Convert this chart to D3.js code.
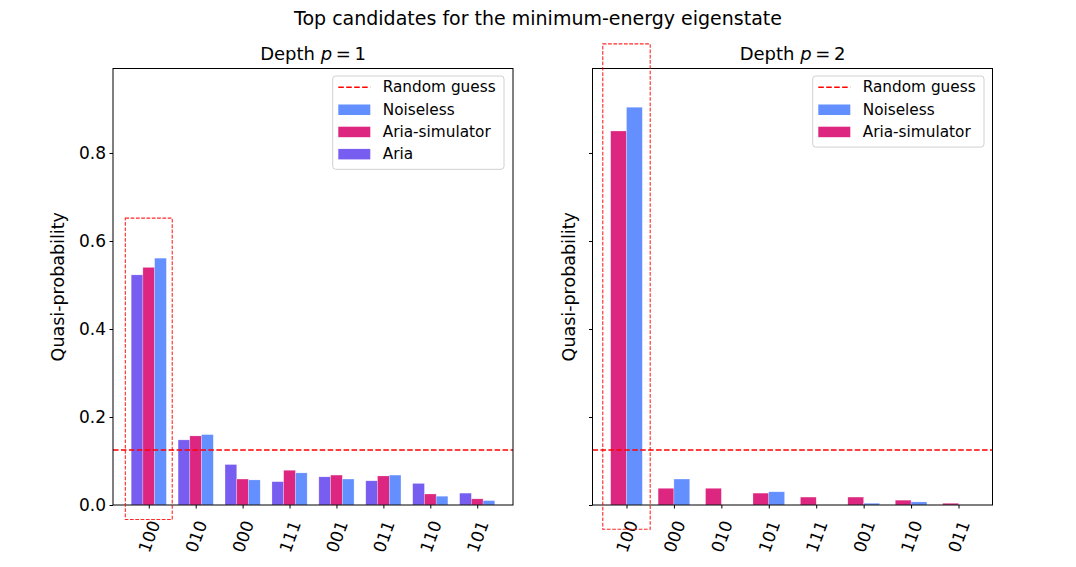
<!DOCTYPE html>
<html><head><meta charset="utf-8">
<script src="https://cdn.jsdelivr.net/npm/d3@7"></script>
<style>body{margin:0;background:#fff} svg text{font-family:"DejaVu Sans",sans-serif;fill:#000}</style>
</head><body><svg id="c" width="1076" height="567"></svg>
<script>
// ---------- data ----------
const suptitle = "Top candidates for the minimum-energy eigenstate";
const yLabel = "Quasi-probability";
const yTicks = [0, 0.2, 0.4, 0.6, 0.8];
const randomGuess = 0.125;
const p1Categories = ["100","010","000","111","001","011","110","101"];
const p1Aria      = [0.523,0.148,0.092,0.053,0.064,0.055,0.049,0.027];
const p1AriaSim   = [0.540,0.157,0.059,0.079,0.068,0.066,0.025,0.014];
const p1Noiseless = [0.561,0.160,0.057,0.073,0.059,0.068,0.020,0.010];
const p2Categories = ["100","000","010","101","111","001","110","011"];
const p2AriaSim   = [0.850,0.038,0.038,0.027,0.018,0.018,0.011,0.004];
const p2Noiseless = [0.904,0.059,0.000,0.030,0.000,0.004,0.007,0.000];
const p1Box = [-0.5, 0.5, -0.033, 0.652];
const p2Box = [-0.5, 0.5, -0.055, 1.048];
const colors = {"Noiseless":"#648FFF","Aria-simulator":"#DC267F","Aria":"#785EF0"};

(function () {
// ---------- layout ----------
const svg = d3.select("#c");
const W = 1076;
const axTop = 68.5, axBottom = 505, axW = 400;
const y = d3.scaleLinear().domain([0, 0.992]).range([axBottom, axTop]);

svg.append("text").attr("x", W/2).attr("y", 25).attr("text-anchor","middle")
  .style("font-size","19px").text(suptitle);

const panels = [
  {x0:113, p:1, cats:p1Categories, box:p1Box, width:0.25, yLabels:true, labOff:49,
   series:[["Aria",p1Aria],["Aria-simulator",p1AriaSim],["Noiseless",p1Noiseless]],
   legend:["Noiseless","Aria-simulator","Aria"], legX:332.7},
  {x0:592.5, p:2, cats:p2Categories, box:p2Box, width:1/3, yLabels:false, labOff:17.5,
   series:[["Aria-simulator",p2AriaSim],["Noiseless",p2Noiseless]],
   legend:["Noiseless","Aria-simulator"], legX:812.7}
];

panels.forEach(P => {
  const n = P.series.length, w = P.width;
  const ext = n*w/2;
  const lo = -ext, hi = P.cats.length-1+ext, m = 0.05*(hi-lo);
  const x = d3.scaleLinear().domain([lo-m, hi+m]).range([P.x0, P.x0+axW]);
  const g = svg.append("g");

  P.series.forEach(([name, vals], si) => {
    const off = (si - (n-1)/2) * w;
    g.selectAll(null).data(vals).enter().append("rect")
      .attr("x", (d,i) => x(i+off-w/2))
      .attr("width", (d,i) => x(i+off+w/2) - x(i+off-w/2))
      .attr("y", d => y(d))
      .attr("height", d => y(0) - y(d))
      .attr("fill", colors[name])
      .attr("stroke","rgba(255,255,255,0.5)").attr("stroke-width",0.5);
  });

  g.append("line").attr("x1", P.x0).attr("x2", P.x0+axW)
    .attr("y1", y(randomGuess)).attr("y2", y(randomGuess))
    .attr("stroke","red").attr("stroke-width",1.5).attr("stroke-dasharray","5.55,2.4");

  g.append("rect").attr("x",P.x0).attr("y",axTop).attr("width",axW).attr("height",axBottom-axTop)
    .attr("fill","none").attr("stroke","#000").attr("stroke-width",1);

  const ya = d3.axisLeft(y).tickValues(yTicks).tickSize(3.5).tickPadding(3.5)
    .tickFormat(P.yLabels ? d3.format(".1f") : () => "");
  const yg = g.append("g").attr("transform",`translate(${P.x0},0)`).call(ya);
  yg.select(".domain").remove();
  yg.attr("font-family",null).attr("font-size",null);
  yg.selectAll("text").style("font-size","17px");

  const xa = d3.axisBottom(x).tickValues(d3.range(P.cats.length)).tickSize(3.5)
    .tickFormat(i => P.cats[i]);
  const xg = g.append("g").attr("transform",`translate(0,${axBottom})`).call(xa);
  xg.select(".domain").remove();
  xg.attr("font-family",null).attr("font-size",null);
  xg.selectAll("text").attr("y",null).attr("dy",null)
    .attr("text-anchor","middle").attr("dominant-baseline","central")
    .attr("transform","translate(0,31.5) rotate(-70)")
    .style("font-size","17px");
  svg.selectAll(".tick line").attr("stroke","#000");

  g.append("text").attr("transform",`translate(${P.x0-P.labOff},${(axTop+axBottom)/2}) rotate(-90)`)
    .attr("text-anchor","middle").style("font-size","17.5px").text(yLabel);

  const t = g.append("text").attr("x", P.x0+axW/2).attr("y", 60).attr("text-anchor","middle")
    .style("font-size","18px");
  t.append("tspan").text("Depth ");
  t.append("tspan").style("font-style","italic").text("p");
  t.append("tspan").text("\u2009=\u2009" + P.p);

  g.append("rect").attr("x", x(P.box[0])).attr("width", x(P.box[1])-x(P.box[0]))
    .attr("y", y(P.box[3])).attr("height", y(P.box[2])-y(P.box[3]))
    .attr("fill","none").attr("stroke","red").attr("stroke-opacity",0.85)
    .attr("stroke-width",1.1).attr("stroke-dasharray","3.7,1.6");

  const items = ["Random guess"].concat(P.legend);
  const lg = g.append("g");
  const lh = 22.2, ly0 = 76;
  lg.append("rect").attr("x",P.legX).attr("y",ly0).attr("width",171.3)
    .attr("height", items.length*lh + 4.5).attr("rx",3)
    .attr("fill","white").attr("fill-opacity",0.8).attr("stroke","#d0d0d0");
  items.forEach((name, i) => {
    const cy = ly0 + 11.3 + i*lh;
    if (i === 0) {
      lg.append("line").attr("x1",P.legX+5.6).attr("x2",P.legX+37.6).attr("y1",cy).attr("y2",cy)
        .attr("stroke","red").attr("stroke-width",1.5).attr("stroke-dasharray","5.55,2.4");
    } else {
      lg.append("rect").attr("x",P.legX+5.6).attr("y",cy-5).attr("width",32).attr("height",10.5)
        .attr("fill",colors[name]);
    }
    lg.append("text").attr("x",P.legX+50).attr("y",cy).attr("dominant-baseline","central")
      .style("font-size","15.3px").text(name);
  });
});
})();
</script></body></html>
